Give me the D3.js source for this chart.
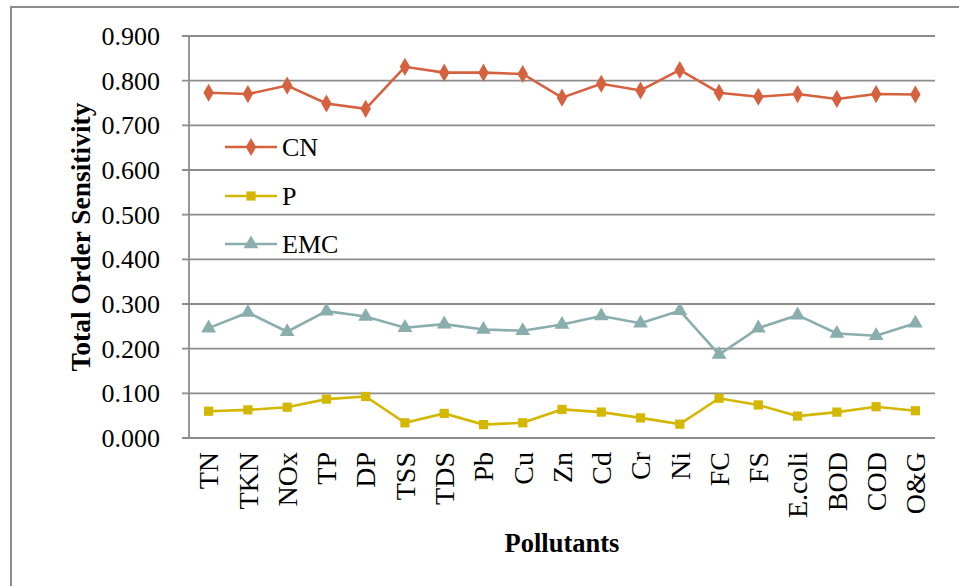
<!DOCTYPE html>
<html><head><meta charset="utf-8">
<script src="https://cdn.jsdelivr.net/npm/d3@7"></script>
<style>body{margin:0;background:#fff}svg{display:block}text{font-family:"Liberation Serif","Times New Roman",serif;fill:#000}</style>
</head><body><svg id="c" width="959" height="586"></svg>
<script>
const categories = ["TN","TKN","NOx","TP","DP","TSS","TDS","Pb","Cu","Zn","Cd","Cr","Ni","FC","FS","E.coli","BOD","COD","O&G"];
const cnValues  = [0.773,0.770,0.789,0.749,0.737,0.831,0.818,0.818,0.815,0.762,0.793,0.778,0.824,0.773,0.764,0.770,0.759,0.770,0.769];
const pValues   = [0.060,0.063,0.069,0.087,0.093,0.034,0.055,0.030,0.034,0.064,0.058,0.045,0.031,0.089,0.074,0.049,0.058,0.070,0.061];
const emcValues = [0.246,0.281,0.238,0.284,0.272,0.247,0.255,0.243,0.240,0.254,0.273,0.257,0.285,0.187,0.246,0.275,0.234,0.229,0.257];
const yTicks = [0,0.1,0.2,0.3,0.4,0.5,0.6,0.7,0.8,0.9];
const seriesNames = ["CN","P","EMC"];
const seriesColors = ["#d6613f","#d4b700","#8aadad"];
const seriesShapes = [d3.symbolDiamond, d3.symbolSquare, d3.symbolTriangle];
const seriesData = [cnValues, pValues, emcValues];

const svg = d3.select("#c");
svg.append("rect").attr("x",11).attr("y",7).attr("width",960).attr("height",600)
  .attr("fill","none").attr("stroke","#8c8c8c").attr("stroke-width",2);

const L=189, R=935, T=36, B=438;
const x = d3.scaleBand().domain(categories).range([L,R]);
const y = d3.scaleLinear().domain([0,0.9]).range([B,T]);

svg.append("g").selectAll("line").data(yTicks).join("line")
  .attr("x1",182).attr("x2",R).attr("y1",d=>y(d)).attr("y2",d=>y(d))
  .attr("stroke","#8c8c8c").attr("stroke-width",1.8);
svg.append("line").attr("x1",L).attr("x2",L).attr("y1",T).attr("y2",B)
  .attr("stroke","#8c8c8c").attr("stroke-width",1.8);

svg.append("g").selectAll("text").data(yTicks).join("text")
  .attr("x",160).attr("y",d=>y(d)).attr("dy","0.35em").attr("text-anchor","end")
  .style("font-size","26px").text(d=>d3.format(".3f")(d));

svg.append("g").selectAll("text").data(categories).join("text")
  .attr("transform",d=>`translate(${x(d)+x.bandwidth()/2},452) rotate(-90)`)
  .attr("dy","0.35em").attr("text-anchor","end").style("font-size","28px").text(d=>d);

svg.append("text").attr("transform",`translate(80,${(T+B)/2}) rotate(-90)`)
  .attr("text-anchor","middle").attr("dy","0.35em").style("font-size","27.5px").style("font-weight","bold")
  .text("Total Order Sensitivity");
svg.append("text").attr("x",(L+R)/2).attr("y",552).attr("text-anchor","middle")
  .style("font-size","26.5px").style("font-weight","bold").text("Pollutants");

const line = d3.line().x((d,i)=>x(categories[i])+x.bandwidth()/2).y(d=>y(d));
const symSizes=[95,85,95];
seriesData.forEach((vals,si)=>{
  svg.append("path").datum(vals).attr("d",line).attr("fill","none")
    .attr("stroke",seriesColors[si]).attr("stroke-width",2.6);
  svg.append("g").selectAll("path").data(vals).join("path")
    .attr("transform",(d,i)=>`translate(${x(categories[i])+x.bandwidth()/2},${y(d)})`)
    .attr("d",d3.symbol().type(seriesShapes[si]).size(symSizes[si]))
    .attr("fill",seriesColors[si]);
});

const legY=[147,196,244];
seriesNames.forEach((n,si)=>{
  const g=svg.append("g");
  g.append("line").attr("x1",225).attr("x2",277).attr("y1",legY[si]).attr("y2",legY[si])
    .attr("stroke",seriesColors[si]).attr("stroke-width",2.6);
  g.append("path").attr("transform",`translate(251,${legY[si]})`)
    .attr("d",d3.symbol().type(seriesShapes[si]).size(symSizes[si])).attr("fill",seriesColors[si]);
  g.append("text").attr("x",282).attr("y",legY[si]).attr("dy","0.35em").style("font-size","26px").text(n);
});
</script></body></html>
